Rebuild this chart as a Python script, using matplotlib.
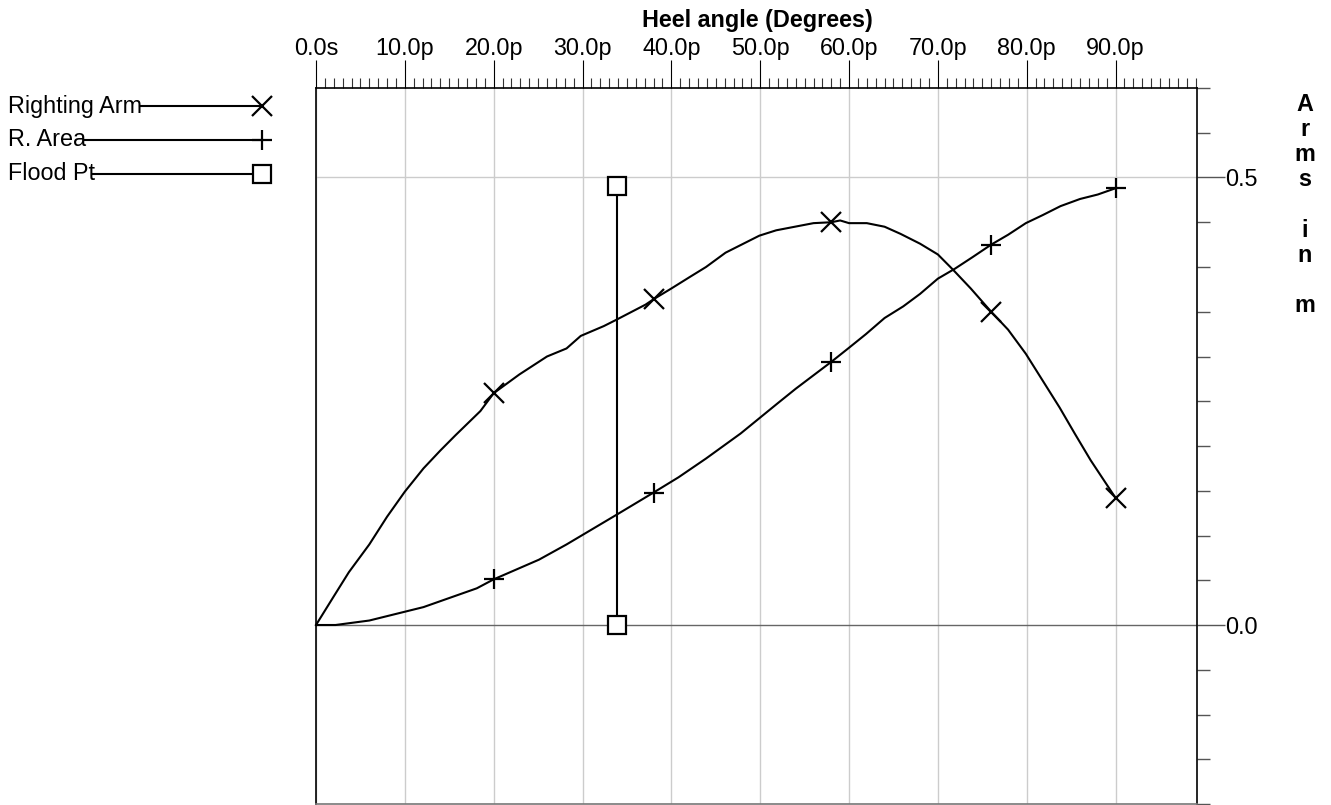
import matplotlib
matplotlib.use("Agg")
import matplotlib.pyplot as plt
import numpy as np

plt.rcParams['font.family'] = ['Liberation Sans', 'DejaVu Sans']

# ---- data ----
ra_deg = [0, 2.0, 3.7, 6.0, 8.0, 10.0, 12.1, 14.0, 15.7, 18.5, 20.0, 22.9, 26.0, 28.2,
          29.8, 32.4, 33.8, 37.1, 38.0, 40.0, 42.1, 43.9, 46.1, 47.9, 49.9, 51.8, 53.9,
          56.0, 58.0, 59.0, 60.0, 62.0, 64.0, 65.8, 68.0, 70.0, 71.7, 73.7, 76.0, 77.9,
          79.9, 81.8, 83.7, 85.4, 87.2, 90.0]
ra_val = [0.0, 0.032, 0.059, 0.090, 0.121, 0.149, 0.175, 0.195, 0.212, 0.239, 0.259, 0.280,
          0.300, 0.309, 0.323, 0.334, 0.341, 0.358, 0.364, 0.376, 0.389, 0.400, 0.416, 0.425,
          0.435, 0.441, 0.445, 0.449, 0.450, 0.452, 0.449, 0.449, 0.445, 0.437, 0.426, 0.414,
          0.397, 0.376, 0.350, 0.330, 0.303, 0.273, 0.243, 0.214, 0.184, 0.142]
ra_marks = [20.0, 38.0, 58.0, 76.0, 90.0]

area_deg = [0, 2.2, 6.0, 12.1, 18.1, 20.0, 25.1, 28.2, 33.8, 38.0, 40.8, 43.9, 47.8, 49.9,
            52.0, 54.0, 58.0, 59.9, 61.9, 64.0, 66.1, 68.0, 70.0, 71.9, 73.9, 76.0, 77.9,
            79.9, 81.8, 83.8, 86.0, 88.0, 90.0]
area_val = [0.0, 0.0, 0.005, 0.020, 0.041, 0.051, 0.073, 0.090, 0.123, 0.148, 0.165, 0.186,
            0.214, 0.231, 0.248, 0.264, 0.294, 0.309, 0.325, 0.343, 0.356, 0.370, 0.387,
            0.398, 0.411, 0.425, 0.436, 0.449, 0.458, 0.468, 0.476, 0.481, 0.488]
area_marks = [20.0, 38.0, 58.0, 76.0, 90.0]

flood_deg = [33.9, 33.9]
flood_val = [0.0, 0.49]

x_major = [0, 10, 20, 30, 40, 50, 60, 70, 80, 90]
x_labels = ['0.0s', '10.0p', '20.0p', '30.0p', '40.0p', '50.0p', '60.0p', '70.0p', '80.0p', '90.0p']
y_major = [0.0, 0.5]
y_labels = ['0.0', '0.5']

series_names = ['Righting Arm', 'R. Area', 'Flood Pt']

FS = 16.8

# ---- figure ----
W, H = 1331, 805
fig = plt.figure(figsize=(W / 100, H / 100), dpi=100)
ax = fig.add_axes([316 / W, 1 / H, (1197.3 - 316) / W, (804 - 88) / H])
ax.set_xlim(0, 99.2)
ax.set_ylim(-0.2, 0.6)

ax.xaxis.tick_top()
ax.set_xticks(x_major)
ax.set_xticklabels(x_labels)
ax.set_xticks([v for v in range(0, 100) if v % 10 != 0], minor=True)
ax.tick_params(axis='x', which='major', length=20, width=0.8, color='black',
               labelsize=FS, pad=0.5, top=True, bottom=False, labeltop=True, labelbottom=False)
ax.tick_params(axis='x', which='minor', length=7.2, width=0.8, color='#333333',
               top=True, bottom=False)

ax.yaxis.tick_right()
ax.set_yticks(y_major)
ax.set_yticklabels(y_labels)
ax.set_yticks([round(v, 2) for v in np.arange(-0.2, 0.601, 0.05)
               if abs(v) > 1e-9 and abs(v - 0.5) > 1e-9], minor=True)
ax.tick_params(axis='y', which='major', length=20, width=1.0, color='#555555',
               labelsize=FS, pad=0, right=True, left=False)
ax.tick_params(axis='y', which='minor', length=9.4, width=1.0, color='#555555',
               right=True, left=False)

ax.grid(True, which='major', axis='x', color='#cccccc', lw=1.0)
ax.axhline(0.5, color='#cccccc', lw=1.0, zorder=0.5)
ax.axhline(0.0, color='#666666', lw=1.0, zorder=0.6)
ax.set_axisbelow(True)

for s in ['left', 'right', 'top']:
    ax.spines[s].set_color('black')
    ax.spines[s].set_linewidth(1.2)
ax.spines['bottom'].set_color('#777777')
ax.spines['bottom'].set_linewidth(1.2)

ra_idx = [ra_deg.index(m) for m in ra_marks]
area_idx = [area_deg.index(m) for m in area_marks]

ax.plot(ra_deg, ra_val, color='black', lw=1.5, marker='x', ms=14, mew=1.6,
        markevery=ra_idx, zorder=3, clip_on=False)
ax.plot(area_deg, area_val, color='black', lw=1.5, marker='+', ms=15, mew=1.6,
        markevery=area_idx, zorder=3, clip_on=False)
ax.plot(flood_deg, flood_val, color='black', lw=1.5, marker='s', ms=12.5, mew=1.6,
        mfc='white', zorder=4, clip_on=False)

# title and y label
fig.text(757 / W, 1 - 27 / H, 'Heel angle (Degrees)', ha='center', va='baseline',
         fontsize=FS, fontweight='bold')
fig.text(1305 / W, 1 - 93 / H, 'A\nr\nm\ns\n \ni\nn\n \nm', ha='center', va='top',
         fontsize=FS, fontweight='bold', linespacing=1.12, multialignment='center')

# legend drawn in pixel space
lax = fig.add_axes([0, 0, 1, 1], zorder=5)
lax.set_xlim(0, W)
lax.set_ylim(H, 0)
lax.axis('off')
lax.patch.set_alpha(0)
leg_y = [106, 140, 174]
leg_x0 = [140, 85, 93]
leg_mk = [dict(marker='x', ms=14, mew=1.6), dict(marker='+', ms=15, mew=1.6),
          dict(marker='s', ms=12.5, mew=1.6, mfc='white')]
for name, y, x0, mk in zip(series_names, leg_y, leg_x0, leg_mk):
    lax.text(8, y, name, ha='left', va='center', fontsize=FS)
    lax.plot([x0, 262], [y, y], color='black', lw=1.5)
    lax.plot([262], [y], color='black', **mk)

fig.savefig('out.png', dpi=100)
